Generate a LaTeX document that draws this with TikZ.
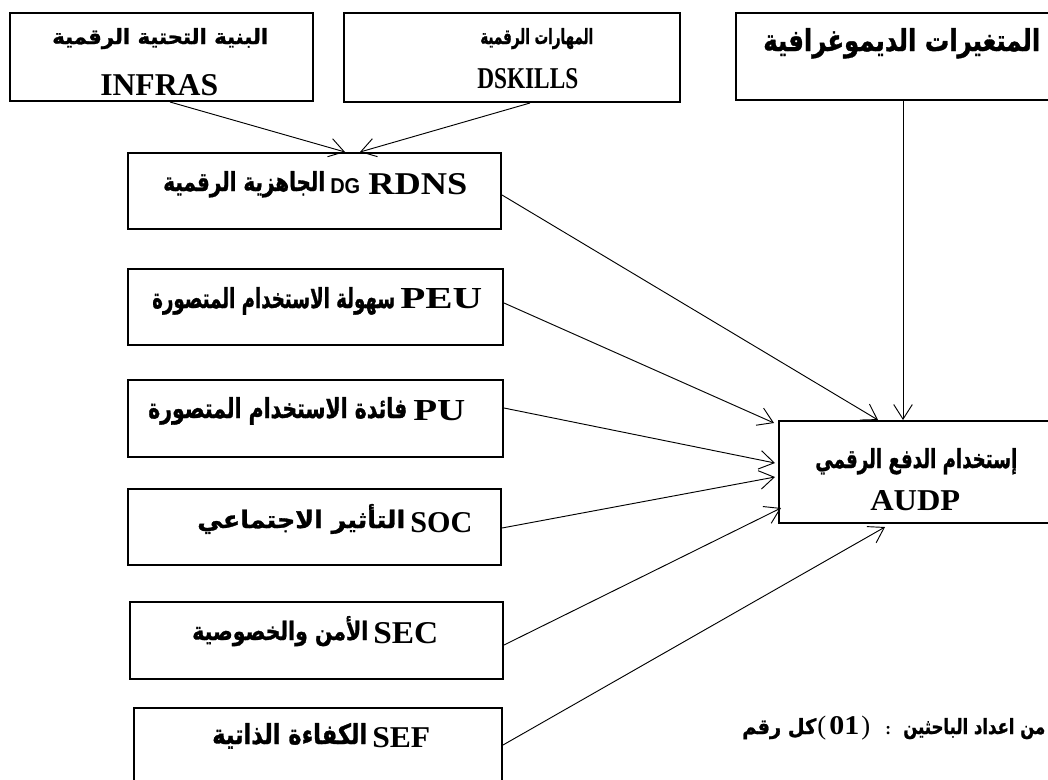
\documentclass[tikz,border=0pt]{standalone}
\usepackage{fontspec}
\usetikzlibrary{arrows.meta}
\TeXXeTstate=1
\newfontfamily\arfont[Script=Arabic,BoldFeatures={FakeBold=1.2}]{DejaVu Sans}
\newfontfamily\latfont{Liberation Serif}
\newfontfamily\sansfont{Liberation Sans}
\newlength\px \setlength\px{0.75pt}
\newcommand\AR[3]{\resizebox{#1\px}{#2\px}{\arfont\bfseries #3}}
\newcommand\LT[3]{\resizebox{#1\px}{#2\px}{\latfont\bfseries #3}}
\tikzset{
  box/.style={draw, line width=1.5pt, inner sep=0pt},
  txt/.style={inner sep=0pt, anchor=base west},
  conn/.style={line width=0.7pt, -{Straight Barb[length=11pt,width=14pt]}}
}
\begin{document}
\begin{tikzpicture}[x=0.75pt,y=-0.75pt]
\useasboundingbox (0,0) rectangle (1048,779);
\fill[white] (0,0) rectangle (1048,779);
\clip (0,0) rectangle (1048,779);
% boxes
\node[box, minimum width=303\px, minimum height=88\px] (infra) at (161.5,57) {};
\node[box, minimum width=336\px, minimum height=89\px] (dsk) at (512,57.5) {};
\node[box, minimum width=324\px, minimum height=87\px] (demo) at (898,56.5) {};
\node[box, minimum width=373\px, minimum height=76\px] (dg) at (314.5,191) {};
\node[box, minimum width=375\px, minimum height=76\px] (peu) at (315.5,307) {};
\node[box, minimum width=375\px, minimum height=77\px] (pu) at (315.5,418.5) {};
\node[box, minimum width=373\px, minimum height=76\px] (soc) at (314.5,527) {};
\node[box, minimum width=373\px, minimum height=77\px] (sec) at (316.5,640.5) {};
\node[box, minimum width=368\px, minimum height=82\px] (sef) at (318,749) {};
\node[box, minimum width=281\px, minimum height=102\px] (audp) at (919.5,472) {};
% texts
\node[txt] (infraA) at (52,44) {\AR{216}{16}{\beginR البنية التحتية الرقمية\endR}};
\node[txt] (infraB) at (100,95) {\LT{118}{21}{INFRAS}};
\node[txt] (dskA) at (480,44) {\AR{113}{16}{\beginR المهارات الرقمية\endR}};
\node[txt] (dskB) at (477,88) {\LT{101}{20}{DSKILLS}};
\node[txt] (demoA) at (763,51) {\AR{277}{23}{\beginR المتغيرات الديموغرافية\endR}};
\node[txt] (dgA) at (163,191) {\AR{162}{20}{\beginR الجاهزية الرقمية\endR}};
\node[txt] (dgB) at (330,193) {\resizebox{30\px}{15\px}{\sansfont\bfseries DG}};
\node[txt] (dgC) at (368,194) {\LT{99}{21}{RDNS}};
\node[txt] (peuA) at (152,308) {\AR{243}{21}{\beginR سهولة الاستخدام المتصورة\endR}};
\node[txt] (peuB) at (400,308) {\LT{82}{20}{PEU}};
\node[txt] (puA) at (148,418) {\AR{259}{21}{\beginR فائدة الاستخدام المتصورة\endR}};
\node[txt] (puB) at (413,420) {\LT{52}{20}{PU}};
\node[txt] (socA) at (197,528) {\AR{208}{24}{\beginR التأثير الاجتماعي\endR}};
\node[txt] (socB) at (410,532) {\LT{62}{20}{SOC}};
\node[txt] (secA) at (192,640) {\AR{176}{24}{\beginR الأمن والخصوصية\endR}};
\node[txt] (secB) at (373,643) {\LT{65}{21}{SEC}};
\node[txt] (sefA) at (212,744) {\AR{155}{21}{\beginR الكفاءة الذاتية\endR}};
\node[txt] (sefB) at (372,747) {\LT{58}{20}{SEF}};
\node[txt] (audpA) at (815,468) {\AR{202}{20}{\beginR إستخدام الدفع الرقمي\endR}};
\node[txt] (audpB) at (870,510) {\LT{90}{20}{AUDP}};
% caption
\node[txt] (capA) at (742,734) {\AR{74}{16}{\beginR كل رقم\endR}};
\node[txt] (capB) at (817,734) {\latfont\fontsize{20pt}{22pt}\selectfont(};
\node[txt] (capC) at (829,734) {\LT{30}{18}{01}};
\node[txt] (capD) at (861,734) {\latfont\fontsize{20pt}{22pt}\selectfont)};
\node[txt] (capE) at (885,734) {\latfont\bfseries\fontsize{13pt}{15pt}\selectfont :};
\node[txt] (capF) at (903,734) {\AR{142}{16}{\beginR من اعداد الباحثين\endR}};
% connectors
\draw[conn] ([xshift=8.5\px]infra.south) -- ([xshift=30.5\px]dg.north);
\draw[conn] ([xshift=18\px]dsk.south) -- ([xshift=45.5\px]dg.north);
\draw[conn] ([xshift=5\px]demo.south) -- ([xshift=-16.5\px]audp.north);
\draw[conn] ([yshift=-4\px]dg.east) -- ([xshift=-41.5\px]audp.north);
\draw[conn] ([yshift=4\px]peu.east) -- ([xshift=-4\px,yshift=-3\px]audp.north west);
\draw[conn] ([yshift=10.5\px]pu.east) -- ([xshift=-3\px,yshift=9\px]audp.west);
\draw[conn] ([yshift=-1\px]soc.east) -- ([xshift=-3\px,yshift=-5\px]audp.west);
\draw[conn] ([yshift=-4.5\px]sec.east) -- ([xshift=3\px,yshift=-36\px]audp.west);
\draw[conn] ([yshift=4\px]sef.east) -- ([xshift=-34.5\px,yshift=-3\px]audp.south);
\end{tikzpicture}
\end{document}
